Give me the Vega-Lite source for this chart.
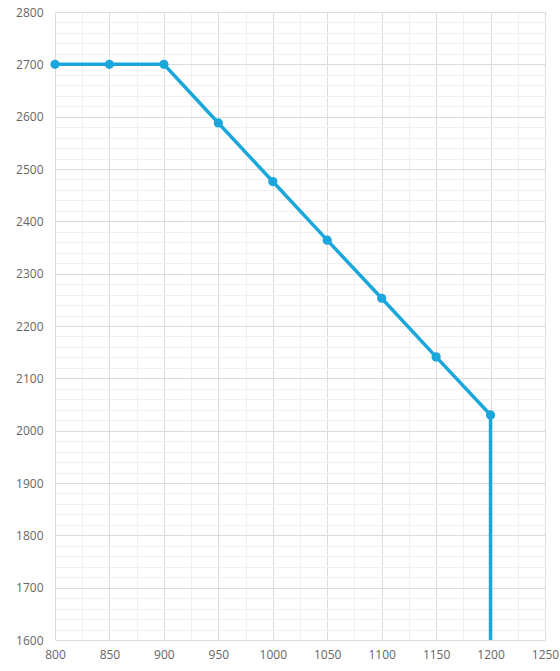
{
  "$schema": "https://vega.github.io/schema/vega-lite/v6.json",
  "width": 490,
  "height": 628,
  "autosize": {"type": "none"},
  "padding": {"left": 55, "top": 12, "right": 15, "bottom": 31},
  "background": "white",
  "config": {
    "view": {"stroke": null},
    "font": "Open Sans",
    "axis": {
      "labelFont": "Open Sans",
      "labelFontSize": 12,
      "labelColor": "#666666",
      "domain": false,
      "ticks": false,
      "gridWidth": 1,
      "title": null
    }
  },
  "data": {
    "values": [
      {"x": 800, "y": 2700, "marker": true},
      {"x": 850, "y": 2700, "marker": true},
      {"x": 900, "y": 2700, "marker": true},
      {"x": 950, "y": 2588, "marker": true},
      {"x": 1000, "y": 2476, "marker": true},
      {"x": 1050, "y": 2364, "marker": true},
      {"x": 1100, "y": 2253, "marker": true},
      {"x": 1150, "y": 2141, "marker": true},
      {"x": 1200, "y": 2030, "marker": true},
      {"x": 1200, "y": 1600, "marker": false}
    ]
  },
  "encoding": {
    "x": {
      "field": "x",
      "type": "quantitative",
      "scale": {"domain": [800, 1250], "nice": false, "zero": false},
      "axis": {
        "values": [800, 825, 850, 875, 900, 925, 950, 975, 1000, 1025, 1050, 1075, 1100, 1125, 1150, 1175, 1200, 1225, 1250],
        "labelExpr": "datum.value % 50 === 0 ? datum.label : ''",
        "labelPadding": 9,
        "labelFlush": false,
        "format": "d",
        "gridColor": {"condition": {"test": "datum.value % 50 === 0", "value": "#dcdcdc"}, "value": "#f0f0f0"}
      }
    },
    "y": {
      "field": "y",
      "type": "quantitative",
      "scale": {"domain": [1600, 2800], "nice": false, "zero": false},
      "axis": {
        "values": [1600, 1620, 1640, 1660, 1680, 1700, 1720, 1740, 1760, 1780, 1800, 1820, 1840, 1860, 1880, 1900, 1920, 1940, 1960, 1980, 2000, 2020, 2040, 2060, 2080, 2100, 2120, 2140, 2160, 2180, 2200, 2220, 2240, 2260, 2280, 2300, 2320, 2340, 2360, 2380, 2400, 2420, 2440, 2460, 2480, 2500, 2520, 2540, 2560, 2580, 2600, 2620, 2640, 2660, 2680, 2700, 2720, 2740, 2760, 2780, 2800],
        "labelExpr": "datum.value % 100 === 0 ? datum.label : ''",
        "labelPadding": 12,
        "labelFlush": false,
        "format": "d",
        "gridColor": {"condition": {"test": "datum.value % 100 === 0", "value": "#dcdcdc"}, "value": "#f0f0f0"}
      }
    }
  },
  "layer": [
    {
      "mark": {"type": "line", "color": "#1ba7dc", "strokeWidth": 3.5, "clip": true}
    },
    {
      "transform": [{"filter": "datum.marker"}],
      "mark": {"type": "point", "filled": true, "opacity": 1, "color": "#1ba7dc", "size": 85, "clip": false}
    }
  ]
}
